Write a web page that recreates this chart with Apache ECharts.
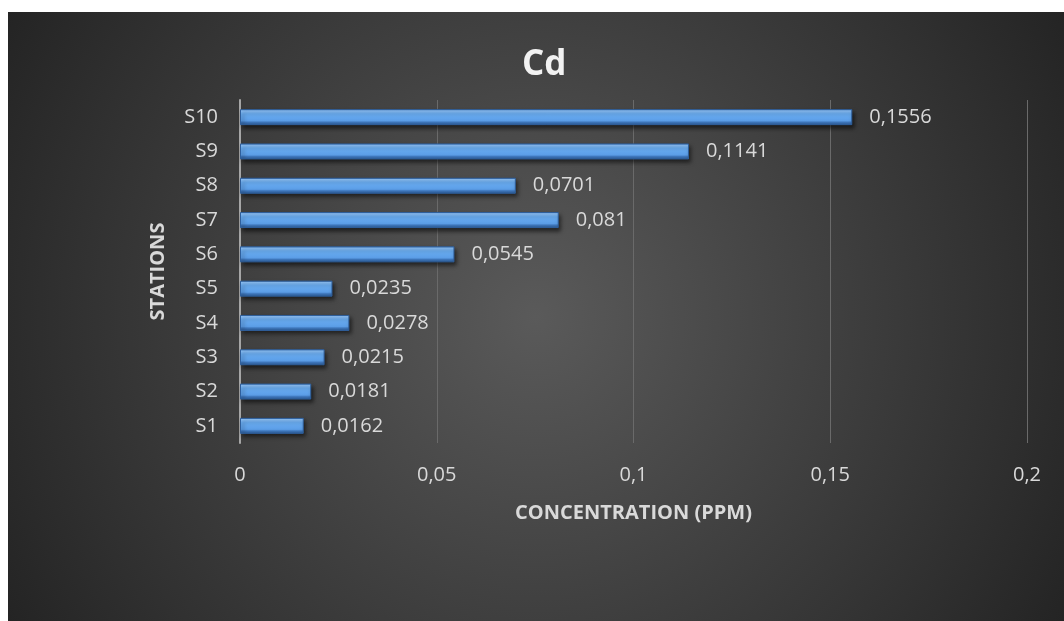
<!DOCTYPE html>
<html>
<head>
<meta charset="utf-8">
<title>Cd</title>
<script src="https://cdn.jsdelivr.net/npm/echarts@6/dist/echarts.min.js"></script>
<style>
  html, body { margin: 0; padding: 0; background: #ffffff; }
  #chart { width: 1064px; height: 621px; }
</style>
</head>
<body>
<div id="chart"></div>
<script>
// Cadmium concentration per sampling station
const stations = ['S1', 'S2', 'S3', 'S4', 'S5', 'S6', 'S7', 'S8', 'S9', 'S10'];
const cdValues = [0.0162, 0.0181, 0.0215, 0.0278, 0.0235, 0.0545, 0.081, 0.0701, 0.1141, 0.1556];
const xTicks = [0, 0.05, 0.1, 0.15, 0.2];

const decimalComma = v => String(v).replace('.', ',');

const chart = echarts.init(document.getElementById('chart'), null, { renderer: 'canvas' });

const textColor = '#d9d9d9';
const fontFamily = '"Open Sans", "Noto Sans", sans-serif';

chart.setOption({
  animation: false,
  graphic: [{
    type: 'rect',
    z: -10,
    silent: true,
    shape: { x: 8, y: 12, width: 1056, height: 609 },
    style: {
      fill: new echarts.graphic.RadialGradient(0.5, 0.5, 1.0, [
        { offset: 0, color: '#5a5a5a' },
        { offset: 1, color: '#242424' }
      ])
    }
  }],
  title: {
    text: 'Cd',
    left: 517,
    top: 40,
    textStyle: {
      color: '#f2f2f2',
      fontFamily: fontFamily,
      fontSize: 35,
      fontWeight: 'bold',
      lineHeight: 40
    }
  },
  grid: { left: 240, right: 37, top: 100, bottom: 178, containLabel: false },
  xAxis: {
    type: 'value',
    min: xTicks[0],
    max: xTicks[xTicks.length - 1],
    interval: xTicks[1] - xTicks[0],
    name: 'CONCENTRATION (PPM)',
    nameLocation: 'middle',
    nameGap: 60,
    nameTextStyle: { color: textColor, fontFamily: fontFamily, fontSize: 20, fontWeight: 'bold' },
    axisLine: { show: false },
    axisTick: { show: false },
    axisLabel: {
      color: textColor,
      fontFamily: fontFamily,
      fontSize: 20,
      margin: 22,
      formatter: v => decimalComma(+v.toFixed(2))
    },
    splitLine: { show: true, lineStyle: { color: '#6a6a6a', width: 1 } }
  },
  yAxis: {
    type: 'category',
    data: stations,
    name: 'STATIONS',
    nameLocation: 'middle',
    nameRotate: 90,
    nameGap: 72,
    nameTextStyle: { color: textColor, fontFamily: fontFamily, fontSize: 20, fontWeight: 'bold' },
    axisLine: { show: true, lineStyle: { color: '#a6a6a6', width: 2 } },
    axisTick: { show: false },
    axisLabel: { color: textColor, fontFamily: fontFamily, fontSize: 20, margin: 22 },
    splitLine: { show: false }
  },
  series: [{
    type: 'bar',
    data: cdValues,
    barWidth: 16,
    itemStyle: {
      color: new echarts.graphic.LinearGradient(0, 0, 0, 1, [
        { offset: 0, color: '#3f7cc4' },
        { offset: 0.1, color: '#8fc4fb' },
        { offset: 0.3, color: '#6cb0f6' },
        { offset: 0.72, color: '#5b9de6' },
        { offset: 0.82, color: '#3e76bb' },
        { offset: 1, color: '#2a5890' }
      ]),
      borderColor: '#2f5f9c',
      borderWidth: 1,
      shadowColor: 'rgba(0,0,0,0.55)',
      shadowBlur: 4,
      shadowOffsetX: 2,
      shadowOffsetY: 3
    },
    label: {
      show: true,
      position: 'right',
      distance: 17,
      color: textColor,
      fontFamily: fontFamily,
      fontSize: 20,
      formatter: p => decimalComma(p.value)
    }
  }]
});
</script>
</body>
</html>
